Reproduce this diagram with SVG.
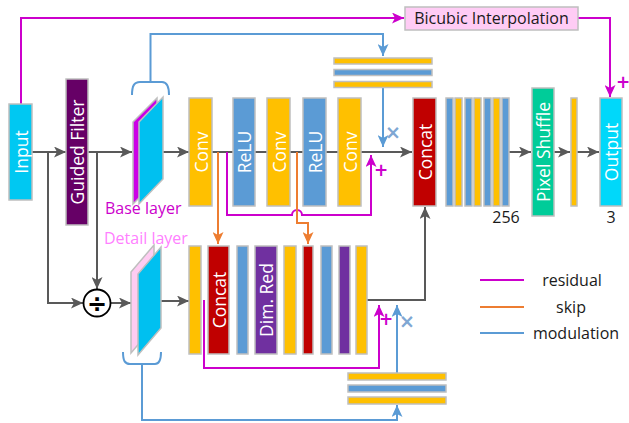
<svg xmlns="http://www.w3.org/2000/svg" width="629" height="423" viewBox="0 0 629 423">
<style>
.box{stroke:#BFBFBF;stroke-width:1.5}
.lbl{font-family:"Open Sans","Liberation Sans",sans-serif;font-size:17.5px;fill:#ffffff;text-anchor:middle;dominant-baseline:central}
.txt{font-family:"Open Sans","Liberation Sans",sans-serif;font-size:16px;fill:#1a1a1a}
.g{fill:none;stroke:#595959;stroke-width:2}
.m{fill:none;stroke:#CC00CC;stroke-width:2}
.o{fill:none;stroke:#ED7D31;stroke-width:2}
.b{fill:none;stroke:#5B9BD5;stroke-width:2}
.y{fill:#FFC000}.bl{fill:#5B9BD5}.r{fill:#C00000}.p{fill:#7030A0}
.sym{font-family:"DejaVu Sans",sans-serif;font-weight:bold;text-anchor:middle;dominant-baseline:central}
</style>
<defs>
<marker id="ag" markerUnits="userSpaceOnUse" markerWidth="13" markerHeight="11" refX="12" refY="5.5" orient="auto"><path d="M0,0 L12,5.5 L0,11 L3,5.5 z" fill="#595959"/></marker>
<marker id="am" markerUnits="userSpaceOnUse" markerWidth="13" markerHeight="11" refX="12" refY="5.5" orient="auto"><path d="M0,0 L12,5.5 L0,11 L3,5.5 z" fill="#CC00CC"/></marker>
<marker id="ao" markerUnits="userSpaceOnUse" markerWidth="13" markerHeight="11" refX="12" refY="5.5" orient="auto"><path d="M0,0 L12,5.5 L0,11 L3,5.5 z" fill="#ED7D31"/></marker>
<marker id="ab" markerUnits="userSpaceOnUse" markerWidth="13" markerHeight="11" refX="12" refY="5.5" orient="auto"><path d="M0,0 L12,5.5 L0,11 L3,5.5 z" fill="#5B9BD5"/></marker>
</defs>

<g id="connectors">
<path class="g" d="M32,152 H66" marker-end="url(#ag)"/>
<path class="g" d="M48,152 V303 H83" marker-end="url(#ag)"/>
<path class="g" d="M88,152 H132" marker-end="url(#ag)"/>
<path class="g" d="M97,152 V289" marker-end="url(#ag)"/>
<path class="g" d="M163,152 H189" marker-end="url(#ag)"/>
<path class="g" d="M212,152 H412" marker-end="url(#ag)"/>
<path class="g" d="M111,303 H131" marker-end="url(#ag)"/>
<path class="g" d="M161,301 H189" marker-end="url(#ag)"/>
<path class="g" d="M367,300 H425 V207" marker-end="url(#ag)"/>
<path class="g" d="M509,152 H531" marker-end="url(#ag)"/>
<path class="g" d="M554,152 H570" marker-end="url(#ag)"/>
<path class="g" d="M577,152 H599" marker-end="url(#ag)"/>

<path class="m" d="M21,104 V18 H404" marker-end="url(#am)"/>
<path class="m" d="M578,18 H610 V97" marker-end="url(#am)"/>
<path class="m" d="M227,152 V215 H292 A5,5 0 0 1 302,215 H371 V155" marker-end="url(#am)"/>
<path class="m" d="M204,300 V368 H379 V305" marker-end="url(#am)"/>

<path class="o" d="M218,152 V244" marker-end="url(#ao)"/>
<path class="o" d="M297,152 V223 H308 V244" marker-end="url(#ao)"/>

<path class="b" d="M132,95 C132,86 134,82 140,82 H162 C167,82 169,86 169,95"/>
<path class="b" d="M150.5,82 V34 H383 V56" marker-end="url(#ab)"/>
<path class="b" d="M383,88 V147" marker-end="url(#ab)"/>
<path class="b" d="M123,352 C123,361 125,364 130,364 H155 C159,364 161,361 161,352"/>
<path class="b" d="M142,364 V420 H397 V405" marker-end="url(#ab)"/>
<path class="b" d="M397,373 V305" marker-end="url(#ab)"/>
</g>

<g id="input"><rect class="box" x="9" y="104" width="23" height="96" fill="#00C8F2"/><text class="lbl" transform="translate(20.5,152) rotate(-90)">Input</text></g>
<g id="guided-filter"><rect class="box" x="66" y="79" width="22" height="146" fill="#660066"/><text class="lbl" transform="translate(77,152) rotate(-90)">Guided Filter</text></g>

<g id="base-layer">
<polygon class="box" points="133,122 157,98 157,180 133,204" fill="#CC00E6"/>
<polygon class="box" points="139,122 163,97 163,179 139,204" fill="#00C0F0"/>
<text class="txt" x="105" y="214" style="fill:#CC00CC">Base layer</text>
</g>
<g id="detail-layer">
<polygon class="box" points="131,272 154,245 154,326 131,353" fill="#FFCCF2"/>
<polygon class="box" points="138,274 161,247 161,328 138,355" fill="#00C0F0"/>
<text class="txt" x="104" y="244" style="fill:#FF80FF">Detail layer</text>
</g>

<g id="divide"><circle cx="97" cy="303" r="13.5" fill="#ffffff" stroke="#000000" stroke-width="1.8"/><text class="sym" x="97" y="303.5" font-size="24" fill="#000000">÷</text></g>

<g id="bicubic"><rect class="box" x="405" y="7" width="173" height="23" fill="#FFCCF5"/><text class="txt" x="491.5" y="24" text-anchor="middle">Bicubic Interpolation</text></g>

<g id="conv1"><rect class="box y" x="189" y="98" width="23" height="108"/><text class="lbl" transform="translate(200.5,152) rotate(-90)">Conv</text></g>
<g id="relu1"><rect class="box bl" x="233" y="98" width="22" height="108"/><text class="lbl" transform="translate(244,152) rotate(-90)">ReLU</text></g>
<g id="conv2"><rect class="box y" x="267" y="98" width="23" height="108"/><text class="lbl" transform="translate(278.5,152) rotate(-90)">Conv</text></g>
<g id="relu2"><rect class="box bl" x="303" y="98" width="23" height="108"/><text class="lbl" transform="translate(314.5,152) rotate(-90)">ReLU</text></g>
<g id="conv3"><rect class="box y" x="338" y="98" width="23" height="108"/><text class="lbl" transform="translate(349.5,152) rotate(-90)">Conv</text></g>

<g id="mod-top">
<rect class="box y" x="334" y="58" width="98" height="6"/>
<rect class="box bl" x="334" y="69.5" width="98" height="6"/>
<rect class="box y" x="334" y="81.5" width="98" height="6"/>
</g>
<g id="ops">
<text class="sym" x="393" y="132" font-size="19" fill="#7FA7D3">×</text>
<text class="sym" x="381" y="170" font-size="17" fill="#CC00CC">+</text>
<text class="sym" x="386" y="319" font-size="17" fill="#CC00CC">+</text>
<text class="sym" x="407" y="321" font-size="19" fill="#7FA7D3">×</text>
<text class="sym" x="623" y="82" font-size="17" fill="#CC00CC">+</text>
</g>

<g id="concat-top"><rect class="box r" x="413" y="98" width="23" height="108"/><text class="lbl" transform="translate(424.5,152) rotate(-90)">Concat</text></g>

<g id="feat256">
<rect class="box bl" x="446" y="98" width="7" height="108"/>
<rect class="box y" x="455" y="98" width="7" height="108"/>
<rect class="box bl" x="465" y="98" width="7" height="108"/>
<rect class="box y" x="474" y="98" width="7" height="108"/>
<rect class="box bl" x="484" y="98" width="7" height="108"/>
<rect class="box y" x="493" y="98" width="7" height="108"/>
<rect class="box bl" x="502" y="98" width="7" height="108"/>
<text class="txt" x="506" y="223" text-anchor="middle">256</text>
</g>

<g id="pixel-shuffle"><rect class="box" x="532" y="88" width="22" height="128" fill="#00CC99"/><text class="lbl" transform="translate(543,152) rotate(-90)">Pixel Shuffle</text></g>
<g id="feat3"><rect class="box y" x="571" y="98" width="6" height="108"/></g>
<g id="output"><rect class="box" x="600" y="98" width="22" height="108" fill="#00D8FA"/><text class="lbl" transform="translate(611,152) rotate(-90)">Output</text><text class="txt" x="611" y="223" text-anchor="middle">3</text></g>

<g id="bottom-row">
<rect class="box y" x="189" y="246" width="12" height="108"/>
<g id="concat-bottom"><rect class="box r" x="208" y="246" width="21" height="108"/><text class="lbl" transform="translate(218.5,300) rotate(-90)">Concat</text></g>
<rect class="box bl" x="237" y="246" width="11" height="108"/>
<g id="dim-red"><rect class="box p" x="255" y="246" width="22" height="108"/><text class="lbl" transform="translate(266,300) rotate(-90)">Dim. Red</text></g>
<rect class="box y" x="284" y="246" width="12" height="108"/>
<rect class="box r" x="303" y="246" width="10" height="108"/>
<rect class="box bl" x="321" y="246" width="11" height="108"/>
<rect class="box p" x="339" y="246" width="11" height="108"/>
<rect class="box y" x="356" y="246" width="11" height="108"/>
</g>

<g id="mod-bottom">
<rect class="box y" x="348" y="373" width="98" height="7"/>
<rect class="box bl" x="348" y="385" width="98" height="7"/>
<rect class="box y" x="348" y="397" width="98" height="7"/>
</g>

<g id="legend">
<path class="m" d="M480,280 H524"/>
<path class="o" d="M480,307 H524"/>
<path class="b" d="M480,333 H524"/>
<text class="txt" x="572" y="285.5" text-anchor="middle">residual</text>
<text class="txt" x="571" y="312.5" text-anchor="middle">skip</text>
<text class="txt" x="576" y="338.5" text-anchor="middle">modulation</text>
</g>
</svg>
